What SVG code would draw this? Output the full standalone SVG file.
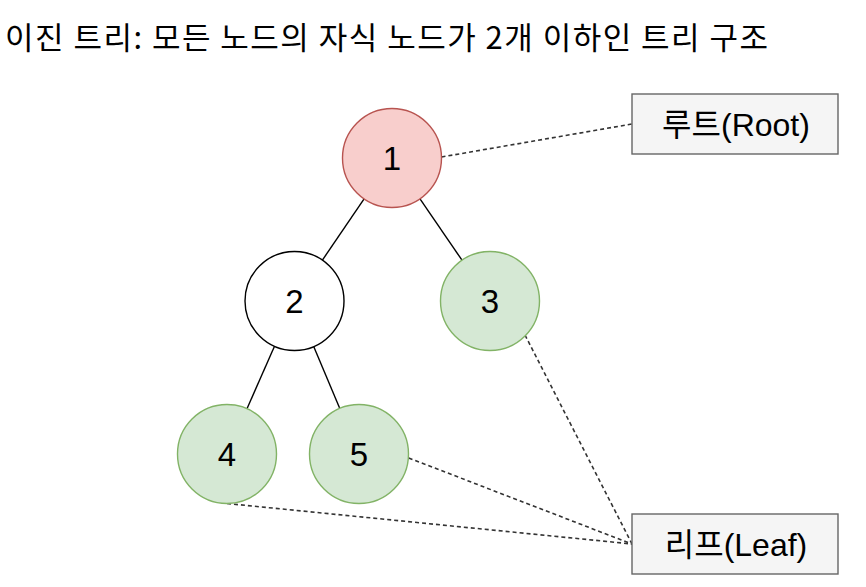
<svg xmlns="http://www.w3.org/2000/svg" width="866" height="587" viewBox="0 0 866 587">
<style>
.title{font-family:"Noto Sans CJK KR","Noto Sans",sans-serif;font-size:31px;fill:#000}
.num{font-family:"Liberation Sans",Arial,sans-serif;font-size:33px;fill:#000;text-anchor:middle}
.lbl{font-family:"Liberation Sans","Noto Sans CJK KR",sans-serif;font-size:32px;fill:#000;text-anchor:middle}
.edge{stroke:#000;stroke-width:1.4;fill:none}
.dash{stroke:#333;stroke-width:1.6;fill:none;stroke-dasharray:4 3}
.red{fill:#f8cecc;stroke:#b85450;stroke-width:1.4}
.white{fill:#fff;stroke:#000;stroke-width:1.4}
.green{fill:#d5e8d4;stroke:#82b366;stroke-width:1.4}
.box{fill:#f5f5f5;stroke:#666;stroke-width:1.4}
</style>
<rect width="866" height="587" fill="#fff"/>
<text class="title" x="5" y="49" textLength="763" lengthAdjust="spacing">이진 트리: 모든 노드의 자식 노드가 2개 이하인 트리 구조</text>
<g id="connectors">
<line class="edge" x1="364.1" y1="198.9" x2="322.4" y2="260.1"/>
<line class="edge" x1="420" y1="198.8" x2="462" y2="260.2"/>
<line class="edge" x1="274.5" y1="346.3" x2="247" y2="408.7"/>
<line class="edge" x1="313.7" y1="346.6" x2="339.8" y2="408.4"/>
<line class="dash" x1="441.5" y1="157" x2="632" y2="124"/>
<line class="dash" x1="525" y1="335" x2="632" y2="544"/>
<line class="dash" x1="408.7" y1="458" x2="632" y2="544"/>
<line class="dash" x1="227" y1="503.5" x2="632" y2="544"/>
</g>
<g id="node1"><circle class="red" cx="392" cy="158" r="49.5"/><text class="num" x="392" y="170">1</text></g>
<g id="node2"><circle class="white" cx="294.5" cy="301" r="49.5"/><text class="num" x="294.5" y="313">2</text></g>
<g id="node3"><circle class="green" cx="490" cy="301" r="49.5"/><text class="num" x="490" y="313">3</text></g>
<g id="node4"><circle class="green" cx="227" cy="454" r="49.5"/><text class="num" x="227" y="466">4</text></g>
<g id="node5"><circle class="green" cx="359" cy="454" r="49.5"/><text class="num" x="359" y="466">5</text></g>
<g id="root"><rect class="box" x="632" y="94" width="206" height="60"/><text class="lbl" x="736" y="136">루트(Root)</text></g>
<g id="leaf"><rect class="box" x="632" y="514" width="206" height="60"/><text class="lbl" x="736" y="556">리프(Leaf)</text></g>
</svg>
